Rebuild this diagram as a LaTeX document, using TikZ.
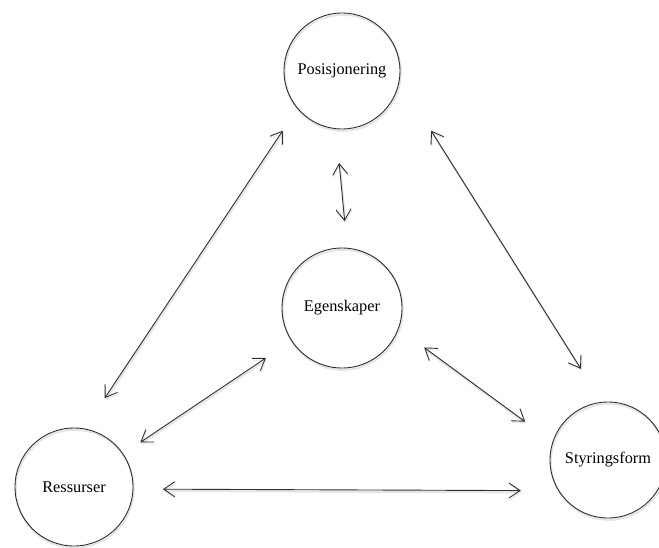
\documentclass[tikz,border=0pt]{standalone}
\usepackage{fontspec}
\setmainfont{Liberation Serif}
\usetikzlibrary{arrows.meta}
\definecolor{ink}{HTML}{2E2E2E}
\tikzset{
  softshadow/.style={preaction={draw=black!10, line width=2pt,
      transform canvas={shift={(0.8pt,-1.8pt)}}}},
  concept/.style={circle, draw=ink, line width=0.9pt, outer sep=0pt, inner sep=0pt,
    font=\fontsize{16.3}{18}\selectfont, softshadow},
  link/.style={draw=ink, line width=0.9pt, softshadow,
    {Straight Barb[length=11pt,width=15pt,line width=0.9pt]}-{Straight Barb[length=11pt,width=15pt,line width=0.9pt]}}
}
\begin{document}
\begin{tikzpicture}[x=1pt, y=-1pt]
  \useasboundingbox (0,0) rectangle (659,547);
  % the four concepts
  \node[concept, minimum size=116pt] (pos) at (342,71)  {Posisjonering};
  \node[concept, minimum size=120pt] (egn) at (342,308) {Egenskaper};
  \node[concept, minimum size=118pt] (res) at (74,487)  {Ressurser};
  \node[concept, minimum size=116pt] (sty) at (608,460) {Styringsform};
  % two-way relations between them
  \draw[link, shorten <=26.8pt, shorten >=37pt]   (pos.220.5) -- (res.80.8);
  \draw[link, shorten <=59.8pt, shorten >=39.5pt] (pos.-9.2)  -- (sty.96.9);
  \draw[link, shorten <=34.4pt, shorten >=27.2pt] (pos.264)   -- (egn.85.9);
  \draw[link, shorten <=31pt,   shorten >=20.9pt] (egn.213.2) -- (res.34.5);
  \draw[link, shorten <=32pt,   shorten >=34.4pt] (egn.-20.6) -- (sty.162.2);
  \draw[link, shorten <=30pt,   shorten >=38pt]   (res.-2.9)  -- (sty.212.3);
\end{tikzpicture}
\end{document}
